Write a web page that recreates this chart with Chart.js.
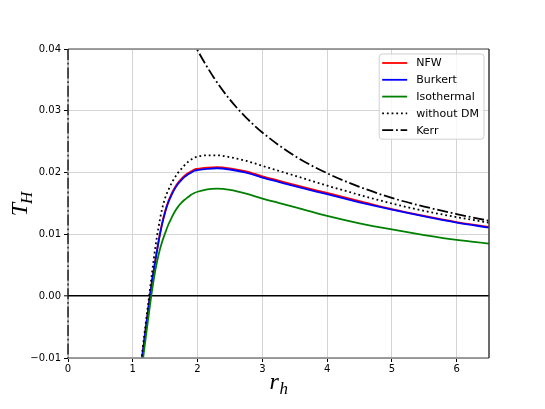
<!DOCTYPE html>
<html><head><meta charset="utf-8">
<script src="https://cdn.jsdelivr.net/npm/chart.js@4"></script>
<style>html,body{margin:0;padding:0;background:#fff;} canvas{display:block;}</style>
</head><body>
<canvas id="c" width="545" height="409"></canvas>
<script>
// ---- data ----
const rValues    = [1.10, 1.15, 1.20, 1.25, 1.30, 1.35, 1.40, 1.45, 1.50, 1.55, 1.60, 1.65, 1.70, 1.75, 1.80, 1.85, 1.90, 1.95, 2.00, 2.15, 2.30, 2.50, 2.75, 3.00, 3.25, 3.50, 4.00, 4.50, 5.00, 5.50, 6.00, 6.50];
const nfw        = [-0.0139, -0.0094, -0.0052, -0.0011, 0.0027, 0.0059, 0.0090, 0.0117, 0.0138, 0.0154, 0.0166, 0.0176, 0.0184, 0.0190, 0.0195, 0.0199, 0.0202, 0.0205, 0.0206, 0.0208, 0.0209, 0.0207, 0.0202, 0.0194, 0.0187, 0.0180, 0.0167, 0.0154, 0.0141, 0.0130, 0.0120, 0.0112];
const burkert    = [-0.0140, -0.0095, -0.0053, -0.0012, 0.0026, 0.0058, 0.0089, 0.0115, 0.0136, 0.0152, 0.0164, 0.0174, 0.0182, 0.0188, 0.0193, 0.0197, 0.0200, 0.0203, 0.0204, 0.0206, 0.0207, 0.0205, 0.0200, 0.0192, 0.0185, 0.0178, 0.0165, 0.0152, 0.0140, 0.0129, 0.0119, 0.0111];
const isothermal = [-0.0150, -0.0108, -0.0067, -0.0027, 0.0011, 0.0043, 0.0068, 0.0087, 0.0102, 0.0116, 0.0127, 0.0137, 0.0145, 0.0151, 0.0156, 0.0160, 0.0164, 0.0167, 0.0169, 0.0173, 0.0174, 0.0172, 0.0166, 0.0158, 0.0151, 0.0144, 0.0130, 0.0118, 0.0108, 0.0099, 0.0091, 0.0085];
const withoutDM  = [-0.0135, -0.0087, -0.0044, -0.0002, 0.0040, 0.0080, 0.0113, 0.0140, 0.0159, 0.0172, 0.0183, 0.0192, 0.0200, 0.0206, 0.0212, 0.0217, 0.0221, 0.0224, 0.0226, 0.0228, 0.0228, 0.0225, 0.0219, 0.0211, 0.0203, 0.0195, 0.0179, 0.0164, 0.0150, 0.0138, 0.0128, 0.0119];
const kerrR      = [1.90, 2.00, 2.25, 2.50, 2.75, 3.00, 3.50, 4.00, 4.50, 5.00, 5.50, 6.00, 6.50];
const kerrT      = [0.0419, 0.0398, 0.0354, 0.0318, 0.0289, 0.0265, 0.0227, 0.0199, 0.0177, 0.0159, 0.0145, 0.0133, 0.0122];
const seriesLabels = ['NFW', 'Burkert', 'Isothermal', 'without DM', 'Kerr'];
const xTicks = [0, 1, 2, 3, 4, 5, 6];
const yTicks = [-0.01, 0.00, 0.01, 0.02, 0.03, 0.04];
const xTitle = ['r', 'h'];
const yTitle = ['T', 'H'];

function pts(xs, ys) { return xs.map((x, i) => ({ x: x, y: ys[i] })); }

const GRID = '#d4d4d4';
const DOT = [1.8, 2.9];
const DASHDOT = [11, 2.8, 1.8, 2.8];

const framePlugin = {
  id: 'frame',
  afterDatasetsDraw(chart) {
    const a = chart.chartArea, c = chart.ctx;
    c.save();
    c.lineCap = 'butt';
    c.strokeStyle = '#808080'; c.lineWidth = 1.5;
    c.beginPath(); c.moveTo(a.left, a.top); c.lineTo(a.right, a.top);
    c.moveTo(a.left, a.bottom); c.lineTo(a.right, a.bottom); c.stroke();
    c.strokeStyle = '#3a3a3a'; c.lineWidth = 1.5;
    c.beginPath(); c.moveTo(a.right, a.top); c.lineTo(a.right, a.bottom); c.stroke();
    c.strokeStyle = '#909090'; c.lineWidth = 1;
    c.beginPath(); c.moveTo(a.left, a.top); c.lineTo(a.left, a.bottom); c.stroke();
    c.strokeStyle = '#000'; c.lineWidth = 1.2; c.setLineDash(DASHDOT);
    c.beginPath(); c.moveTo(a.left, a.top); c.lineTo(a.left, a.bottom); c.stroke();
    c.restore();
  }
};

const titlePlugin = {
  id: 'axtitles',
  afterDraw(chart) {
    const a = chart.chartArea, c = chart.ctx;
    const big = 'italic 24px "Liberation Serif"', small = 'italic 17px "Liberation Serif"';
    c.save();
    c.fillStyle = '#000';
    c.textBaseline = 'alphabetic'; c.textAlign = 'left';
    c.font = big; const w1 = c.measureText(xTitle[0]).width;
    c.font = small; const w2 = c.measureText(xTitle[1]).width;
    let x0 = (a.left + a.right) / 2 - (w1 + w2) / 2;
    c.font = big; c.fillText(xTitle[0], x0, 389);
    c.font = small; c.fillText(xTitle[1], x0 + w1 + 0.5, 394);
    c.font = big; const t1 = c.measureText(yTitle[0]).width;
    c.font = small; const t2 = c.measureText(yTitle[1]).width;
    c.translate(27, (a.top + a.bottom) / 2);
    c.rotate(-Math.PI / 2);
    const s = -(t1 + t2) / 2;
    c.font = big; c.fillText(yTitle[0], s, 0);
    c.font = small; c.fillText(yTitle[1], s + t1 - 1, 5);
    c.restore();
  }
};

const legendPlugin = {
  id: 'mylegend',
  afterDraw(chart) {
    const a = chart.chartArea, c = chart.ctx;
    const ds = chart.data.datasets;
    c.save();
    c.font = '11px "DejaVu Sans"';
    let tw = 0;
    ds.forEach(d => { tw = Math.max(tw, c.measureText(d.label).width); });
    const w = 3 + 25 + 9 + tw + 5;
    const rowH = 16.8;
    const h = 9 + rowH * (ds.length - 1) + 9;
    const right = a.right - 5, top = a.top + 5, left = right - w;
    c.beginPath();
    const r = 3;
    c.moveTo(left + r, top); c.lineTo(right - r, top); c.quadraticCurveTo(right, top, right, top + r);
    c.lineTo(right, top + h - r); c.quadraticCurveTo(right, top + h, right - r, top + h);
    c.lineTo(left + r, top + h); c.quadraticCurveTo(left, top + h, left, top + h - r);
    c.lineTo(left, top + r); c.quadraticCurveTo(left, top, left + r, top);
    c.closePath();
    c.fillStyle = 'rgba(255,255,255,0.8)'; c.fill();
    c.strokeStyle = '#d0d0d0'; c.lineWidth = 1; c.stroke();
    ds.forEach((d, i) => {
      const y = top + 9 + i * rowH;
      c.strokeStyle = d.borderColor; c.lineWidth = 1.8;
      c.setLineDash(d.borderDash || []);
      c.beginPath(); c.moveTo(left + 3, y); c.lineTo(left + 28, y); c.stroke();
      c.setLineDash([]);
      c.fillStyle = '#000'; c.textBaseline = 'middle'; c.textAlign = 'left';
      c.fillText(d.label, left + 37, y + 0.5);
    });
    c.restore();
  }
};

Chart.defaults.font.family = '"DejaVu Sans"';
Chart.defaults.color = '#000';

new Chart(document.getElementById('c'), {
  type: 'line',
  data: {
    datasets: [
      { label: seriesLabels[0], data: pts(rValues, nfw), borderColor: '#ff0000', order: 5 },
      { label: seriesLabels[1], data: pts(rValues, burkert), borderColor: '#0000ff', order: 4 },
      { label: seriesLabels[2], data: pts(rValues, isothermal), borderColor: '#008000', order: 3 },
      { label: seriesLabels[3], data: pts(rValues, withoutDM), borderColor: '#000000', borderDash: DOT, order: 2 },
      { label: seriesLabels[4], data: pts(kerrR, kerrT), borderColor: '#000000', borderDash: DASHDOT, order: 1 }
    ]
  },
  options: {
    responsive: false, animation: false, devicePixelRatio: 1, events: [],
    layout: { padding: { left: 0, top: 49, right: 56, bottom: 0 } },
    elements: {
      point: { radius: 0, hoverRadius: 0 },
      line: { borderWidth: 1.8, cubicInterpolationMode: 'monotone', fill: false, borderCapStyle: 'butt' }
    },
    plugins: { legend: { display: false }, tooltip: { enabled: false }, title: { display: false } },
    scales: {
      x: {
        type: 'linear', min: 0, max: 6.5,
        afterBuildTicks: s => { s.ticks = xTicks.map(v => ({ value: v })); },
        afterFit: s => { s.height = 51; },
        grid: { color: GRID, lineWidth: 1, tickColor: '#000', tickLength: 4, tickWidth: 1 },
        border: { display: false },
        ticks: { color: '#000', font: { size: 10 }, padding: 1, maxRotation: 0, callback: v => String(v) }
      },
      y: {
        type: 'linear', min: -0.01, max: 0.04,
        afterBuildTicks: s => { s.ticks = yTicks.map(v => ({ value: v })); },
        afterFit: s => { s.width = 68; },
        grid: {
          color: ctx => (ctx.tick && Math.abs(ctx.tick.value) < 1e-9) ? '#000' : GRID,
          lineWidth: ctx => (ctx.tick && Math.abs(ctx.tick.value) < 1e-9) ? 1.6 : 1,
          tickColor: '#000', tickLength: 4, tickWidth: 1
        },
        border: { display: false },
        ticks: {
          color: '#000', font: { size: 10 }, padding: 3,
          callback: v => (Math.abs(v) < 1e-9 ? '0.00' : v.toFixed(2).replace('-', '\u2212'))
        }
      }
    }
  },
  plugins: [framePlugin, titlePlugin, legendPlugin]
});
</script>
</body></html>
